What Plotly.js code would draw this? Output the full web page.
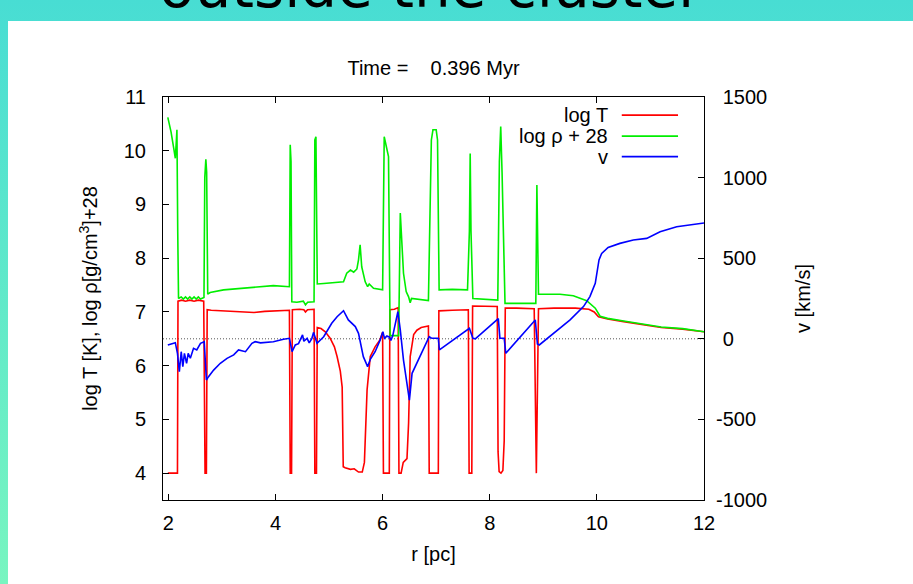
<!DOCTYPE html>
<html>
<head>
<meta charset="utf-8">
<script src="https://cdn.plot.ly/plotly-3.0.1.min.js"></script>
<style>
  html, body { margin: 0; padding: 0; }
  body {
    width: 913px; height: 584px; overflow: hidden; position: relative;
    background: linear-gradient(to bottom, #48DDD3 0%, #78F5C0 100%);
  }
  #sheet { position: absolute; left: 8px; top: 21px; right: 0; bottom: 0; background: #ffffff; }
  #chart { position: absolute; left: 0; top: 0; width: 913px; height: 584px; }
</style>
</head>
<body>
<div id="sheet"></div>
<div id="chart"></div>
<script>
// Radial profiles of the outflow at t = 0.396 Myr
const rT = [1.99, 2.17, 2.18, 2.25, 2.32, 2.40, 2.48, 2.56, 2.66, 2.685, 2.71, 2.725, 2.8, 3.0, 3.2, 3.4, 3.6, 3.8, 4.0, 4.26,
  4.275, 4.30, 4.315, 4.45, 4.53, 4.56, 4.60, 4.72, 4.735, 4.765, 4.78, 4.85, 4.93, 5.02, 5.10, 5.15, 5.21, 5.245, 5.265, 5.30,
  5.40, 5.47, 5.55, 5.62, 5.66, 5.69, 5.71, 5.77, 5.86, 5.95, 6.00, 6.015, 6.125, 6.135, 6.22, 6.29, 6.305, 6.345, 6.385, 6.455,
  6.485, 6.515, 6.58, 6.64, 6.72, 6.855, 6.87, 7.04, 7.05, 7.30, 7.60, 7.615, 7.665, 7.68, 7.90, 8.14, 8.155, 8.175, 8.21, 8.245,
  8.27, 8.29, 8.50, 8.83, 8.87, 8.91, 9.20, 9.60, 9.85, 9.95, 10.03, 10.2, 10.5, 10.87, 11.2, 11.6, 12.0];
const logT = [4.0, 4.0, 7.20, 7.22, 7.20, 7.22, 7.20, 7.22, 7.20, 4.0, 4.0, 7.04, 7.03, 7.02, 7.00, 6.99, 6.99, 7.01, 7.02, 7.03,
  4.0, 4.0, 7.04, 7.05, 7.04, 7.00, 7.04, 7.05, 4.0, 4.0, 6.71, 6.69, 6.63, 6.51, 6.35, 6.17, 5.90, 5.60, 4.12, 4.10,
  4.07, 4.08, 4.02, 4.02, 4.20, 4.90, 5.55, 6.17, 6.35, 6.48, 6.62, 4.0, 4.0, 7.04, 7.05, 7.08, 4.0, 4.0, 4.20, 4.27,
  4.93, 6.17, 6.58, 6.66, 6.71, 6.74, 4.0, 4.0, 7.02, 7.03, 7.04, 4.0, 4.0, 7.11, 7.11, 7.10, 4.40, 4.03, 4.0, 4.05,
  4.60, 7.07, 7.07, 7.06, 4.0, 7.06, 7.07, 7.07, 7.05, 7.00, 6.91, 6.87, 6.82, 6.76, 6.71, 6.68, 6.63];

const rRho = [1.99, 2.05, 2.10, 2.13, 2.15, 2.16, 2.175, 2.19, 2.24, 2.28, 2.32, 2.36, 2.40, 2.44, 2.48, 2.52, 2.56, 2.60, 2.665, 2.68,
  2.70, 2.715, 2.735, 2.78, 3.03, 3.34, 3.655, 3.96, 4.26, 4.275, 4.29, 4.305, 4.40, 4.52, 4.56, 4.60, 4.72, 4.735, 4.755, 4.77,
  4.78, 4.90, 5.02, 5.27, 5.33, 5.40, 5.46, 5.52, 5.55, 5.58, 5.61, 5.675, 5.72, 5.75, 5.83, 6.00, 6.03, 6.07, 6.11, 6.14,
  6.30, 6.33, 6.36, 6.39, 6.44, 6.485, 6.515, 6.54, 6.855, 6.88, 6.91, 6.94, 7.00, 7.025, 7.045, 7.055, 7.30, 7.585, 7.62, 7.635,
  7.65, 7.685, 8.15, 8.18, 8.205, 8.23, 8.285, 8.60, 8.86, 8.88, 8.91, 9.31, 9.56, 9.81, 9.97, 10.06, 10.2, 10.5, 10.87, 11.2,
  11.6, 12.0];
const logRho = [10.62, 10.35, 10.05, 9.86, 10.20, 10.39, 8.5, 7.25, 7.28, 7.24, 7.28, 7.24, 7.28, 7.24, 7.28, 7.24, 7.28, 7.24, 7.27, 9.5,
  9.84, 9.6, 7.33, 7.36, 7.41, 7.44, 7.47, 7.49, 7.47, 10.11, 9.8, 7.19, 7.18, 7.20, 7.13, 7.18, 7.19, 10.2, 10.26, 7.8,
  7.52, 7.53, 7.54, 7.56, 7.72, 7.78, 7.74, 7.80, 7.97, 8.25, 7.84, 7.56, 7.47, 7.52, 7.44, 7.41, 10.26, 10.1, 9.89, 6.56,
  6.56, 8.84, 8.3, 7.72, 7.38, 7.28, 7.17, 7.25, 7.21, 8.5, 10.2, 10.39, 10.39, 10.2, 8.0, 7.41, 7.42, 7.41, 8.5, 9.95,
  8.5, 7.25, 7.22, 9.8, 10.45, 9.6, 7.16, 7.16, 7.16, 9.36, 7.33, 7.33, 7.30, 7.21, 7.07, 6.92, 6.88, 6.83, 6.77, 6.72,
  6.69, 6.63];

const rV = [1.99, 2.13, 2.17, 2.205, 2.24, 2.27, 2.30, 2.34, 2.37, 2.41, 2.47, 2.53, 2.60, 2.67, 2.71, 2.75, 2.845, 2.97, 3.095, 3.22,
  3.31, 3.44, 3.56, 3.62, 3.72, 3.96, 4.15, 4.26, 4.31, 4.37, 4.43, 4.505, 4.53, 4.59, 4.63, 4.68, 4.71, 4.775, 4.90, 5.05,
  5.15, 5.27, 5.36, 5.49, 5.55, 5.64, 5.72, 5.77, 5.86, 5.955, 6.005, 6.035, 6.08, 6.13, 6.155, 6.19, 6.285, 6.33, 6.39, 6.44,
  6.50, 6.55, 6.64, 6.76, 6.87, 6.92, 7.04, 7.06, 7.62, 7.685, 7.73, 8.16, 8.19, 8.27, 8.30, 8.85, 8.89, 8.925, 9.19, 9.50,
  9.75, 9.87, 9.97, 10.01, 10.04, 10.09, 10.21, 10.43, 10.68, 10.93, 11.18, 11.49, 11.80, 12.0];
const vel = [-39, -24, -90, -204, -80, -173, -90, -152, -90, -121, -59, -69, -28, -18, -256, -235, -194, -152, -121, -100,
  -69, -80, -28, -18, -25, -18, -3, 3, -80, -38, -30, 24, -15, 3, -25, 3, 40, -28, 13, 96,
  137, 174, 117, 76, 34, -111, -173, -128, -80, -7, 44, 3, 17, 10, -10, 20, 168, 55, -132, -256,
  -380, -214, -152, -69, 13, 3, 3, -69, 65, 3, 0, 125, 3, 3, -90, 117, -32, -38, 34, 117,
  200, 262, 344, 427, 489, 530, 567, 592, 613, 623, 664, 695, 710, 718];

const seriesNames = ['log T', 'log \u03c1 + 28', 'v'];
const seriesColors = ['#ff0000', '#00ee00', '#0000ff'];
const xTicks = [2, 4, 6, 8, 10, 12];
const yTicks = [4, 5, 6, 7, 8, 9, 10, 11];
const y2Ticks = [-1000, -500, 0, 500, 1000, 1500];
// right-hand labels: ASCII hyphen for negatives, positives padded by a
// hyphen-wide space so the minus signs hang to the left of the digit column
const y2TickText = y2Ticks.map(v => v < 0 ? '-' + Math.abs(v) : '\u2004' + v);

const FONT = 'Liberation Sans, Arial, sans-serif';
const FS = 20;

const traces = [
  { x: rT, y: logT, name: seriesNames[0], type: 'scatter', mode: 'lines',
    line: { color: seriesColors[0], width: 1.6 }, yaxis: 'y' },
  { x: rRho, y: logRho, name: seriesNames[1], type: 'scatter', mode: 'lines',
    line: { color: seriesColors[1], width: 1.6 }, yaxis: 'y' },
  { x: rV, y: vel, name: seriesNames[2], type: 'scatter', mode: 'lines',
    line: { color: seriesColors[2], width: 1.6 }, yaxis: 'y2' }
];

// key drawn gnuplot-style: label on the left, sample line on the right
const keyY = [0.955, 0.903, 0.852];
const keyShapes = seriesNames.map((n, i) => ({
  type: 'line', xref: 'paper', yref: 'paper', x0: 0.848, x1: 0.952, y0: keyY[i], y1: keyY[i],
  line: { color: seriesColors[i], width: 1.6 }
}));
const keyLabels = seriesNames.map((n, i) => ({
  xref: 'paper', yref: 'paper', x: 0.827, y: keyY[i], xanchor: 'right', yanchor: 'middle',
  text: n, showarrow: false, font: { family: FONT, size: FS, color: '#000' }
}));

const layout = {
  width: 913, height: 584,
  margin: { l: 163, r: 209, t: 97, b: 84 },
  paper_bgcolor: 'rgba(0,0,0,0)', plot_bgcolor: 'rgba(0,0,0,0)',
  showlegend: false,
  font: { family: FONT, size: FS, color: '#000' },
  title: { text: 'Time =\u00a0\u00a0\u00a0\u00a00.396 Myr', x: 0.5, xref: 'paper', xanchor: 'center',
           y: 1 - 68 / 584, yref: 'container', yanchor: 'middle',
           font: { family: FONT, size: FS, color: '#000' } },
  xaxis: {
    range: [1.9, 12], tickvals: xTicks, ticks: 'inside', ticklen: 6, tickcolor: '#000',
    showline: true, linecolor: '#000', linewidth: 1, mirror: 'ticks',
    showgrid: false, zeroline: false, ticklabelstandoff: 5,
    title: { text: 'r [pc]', standoff: 13, font: { family: FONT, size: FS } }
  },
  yaxis: {
    range: [3.5, 11], tickvals: yTicks, ticks: 'inside', ticklen: 6, tickcolor: '#000',
    showline: true, linecolor: '#000', linewidth: 1, mirror: true,
    showgrid: false, zeroline: false, ticklabelstandoff: 12,
    title: { text: 'log T [K], log \u03c1[g/cm<sup>3</sup>]+28', standoff: 20, font: { family: FONT, size: FS } }
  },
  yaxis2: {
    overlaying: 'y', side: 'right', range: [-1000, 1500], tickvals: y2Ticks, ticktext: y2TickText,
    ticks: 'inside', ticklen: 6, tickcolor: '#000', showline: false,
    showgrid: false, zeroline: false, ticklabelstandoff: 11,
    title: { text: 'v [km/s]', standoff: 29, font: { family: FONT, size: FS } }
  },
  shapes: [
    { type: 'line', xref: 'paper', yref: 'y2', x0: 0, x1: 1, y0: 0, y1: 0,
      line: { color: '#555555', width: 1, dash: '1px,2px' }, layer: 'below' }
  ].concat(keyShapes),
  annotations: [
    { xref: 'paper', yref: 'paper', x: 0.495, y: 1.183, xanchor: 'center', yanchor: 'bottom',
      text: 'outside the cluster', showarrow: false,
      font: { family: 'DejaVu Sans, sans-serif', size: 58, color: '#000' } }
  ].concat(keyLabels)
};

Plotly.newPlot('chart', traces, layout, { displayModeBar: false, staticPlot: true });
</script>
</body>
</html>
